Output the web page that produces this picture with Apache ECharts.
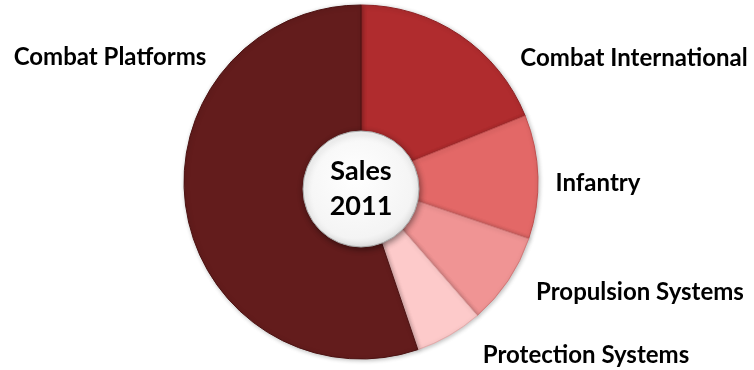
<!DOCTYPE html>
<html>
<head>
<meta charset="utf-8">
<script src="https://cdn.jsdelivr.net/npm/echarts@6/dist/echarts.min.js"></script>
<style>
  html, body { margin: 0; padding: 0; background: #ffffff; }
  #chart { width: 754px; height: 370px; }
</style>
</head>
<body>
<div id="chart"></div>
<script>
// Business segments and their share of 2011 sales (%)
const segments = ['Combat International', 'Infantry', 'Propulsion Systems', 'Protection Systems', 'Combat Platforms'];
const shares = [18.9, 11.3, 8.4, 6.2, 55.2];
const centerTitle = 'Sales\n2011';

// Slice fills, from deep red to pale pink, and the dark maroon for the largest segment
const sliceColors = ['#b02c2e', '#e36867', '#f09494', '#fdcaca', '#631c1c'];
const sliceEdges = ['#8e2023', '#c24f4f', '#d37878', '#e5aaaa', '#4c1212'];
// Label anchor points (pixel centres) for each segment name
const labelSpots = [[634, 58], [598, 183], [640, 292], [586, 355], [110, 57]];

const chart = echarts.init(document.getElementById('chart'), null, { renderer: 'canvas' });

const sliceData = segments.map((name, i) => ({
  name: name,
  value: shares[i],
  itemStyle: { color: sliceColors[i], borderColor: sliceEdges[i], borderWidth: 1 }
}));

chart.setOption({
  animation: false,
  backgroundColor: '#ffffff',
  series: [
    {
      type: 'pie',
      center: [361, 182],
      radius: [0, 177],
      startAngle: 90,
      clockwise: true,
      silent: true,
      itemStyle: {
        shadowBlur: 4,
        shadowColor: 'rgba(0,0,0,0.25)',
        shadowOffsetX: 1,
        shadowOffsetY: 1
      },
      label: {
        show: true,
        formatter: '{b}',
        fontFamily: 'Lato',
        fontWeight: 'bold',
        fontSize: 24,
        color: '#000000',
        overflow: 'none',
        width: 300
      },
      labelLine: { show: false },
      labelLayout: function (params) {
        const p = labelSpots[params.dataIndex];
        return { x: p[0], y: p[1], align: 'center', verticalAlign: 'middle' };
      },
      data: sliceData
    },
    {
      type: 'pie',
      center: [361, 189],
      radius: [0, 58],
      silent: true,
      z: 5,
      itemStyle: {
        color: {
          type: 'radial', x: 0.45, y: 0.4, r: 0.65,
          colorStops: [
            { offset: 0, color: '#ffffff' },
            { offset: 0.8, color: '#f4f4f4' },
            { offset: 1, color: '#d9d9d9' }
          ]
        },
        borderColor: '#a8a8a8',
        borderWidth: 1,
        shadowBlur: 6,
        shadowColor: 'rgba(0,0,0,0.45)',
        shadowOffsetX: 1,
        shadowOffsetY: 2
      },
      label: {
        show: true,
        position: 'center',
        formatter: centerTitle,
        fontFamily: 'Lato',
        fontWeight: 'bold',
        fontSize: 27,
        lineHeight: 35,
        color: '#000000'
      },
      labelLine: { show: false },
      data: [{ name: 'Sales 2011', value: 1 }]
    }
  ]
});
</script>
</body>
</html>
